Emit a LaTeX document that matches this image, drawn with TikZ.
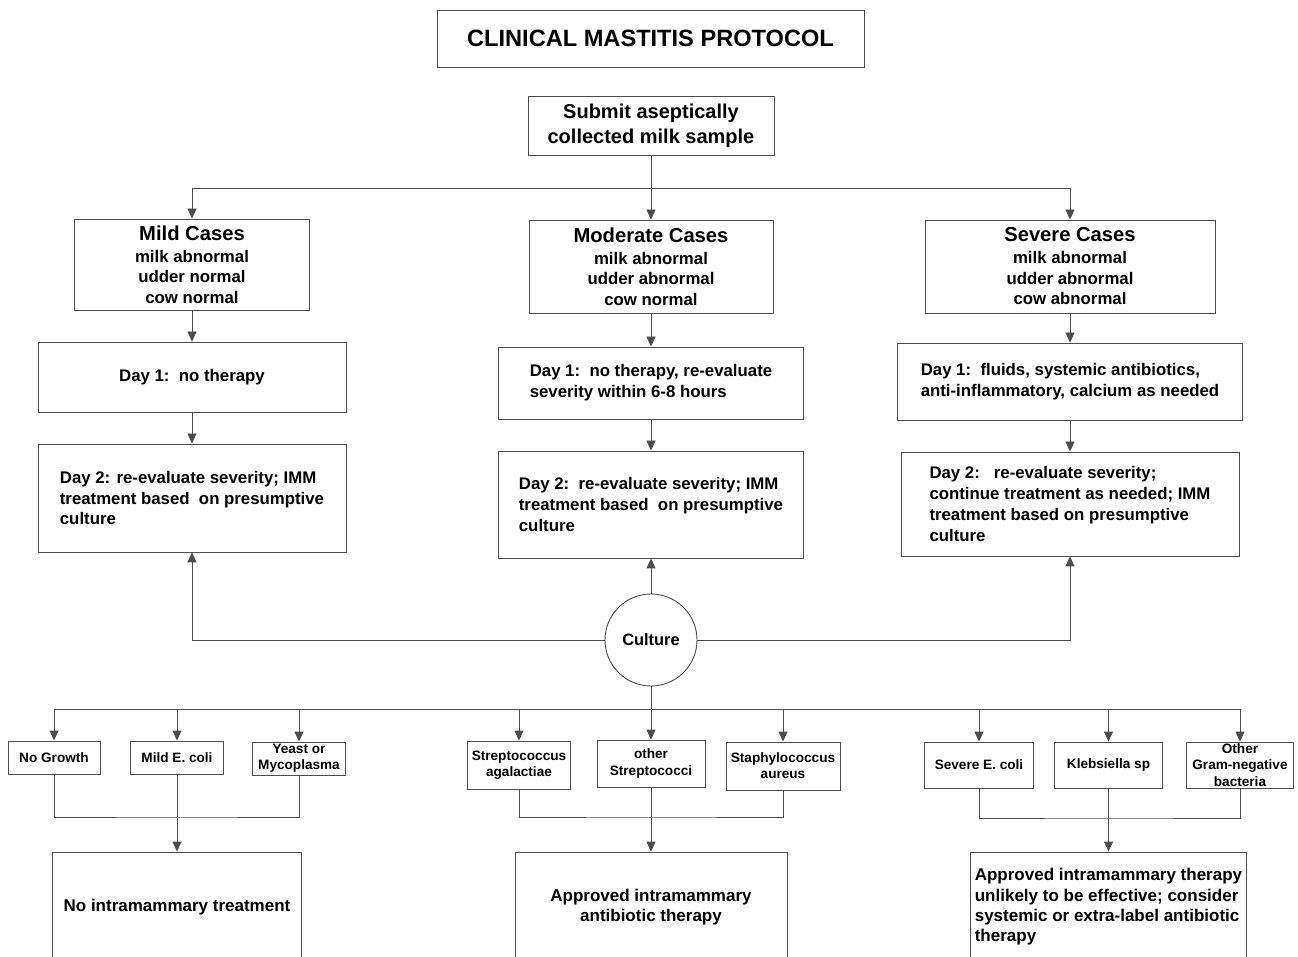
\documentclass[tikz,border=0pt]{standalone}
\usepackage{fontspec}
\setmainfont{Liberation Sans}
\usepackage{tikz}
\usetikzlibrary{arrows.meta}

\begin{document}
\begin{tikzpicture}[
  x=0.5pt, y=-0.5pt,
  line width=0.45pt,
  box/.style={draw=black!70, align=center, inner sep=2pt},
  titlebox/.style={box, font=\fontsize{11.8}{14}\selectfont\bfseries},
  casebox/.style={box, font=\fontsize{8.4}{10.25}\selectfont\bfseries},
  daybox/.style={box, align=left, font=\fontsize{8.4}{10.4}\selectfont\bfseries},
  germbox/.style={box, inner ysep=0.3pt, font=\fontsize{6.8}{8.1}\selectfont\bfseries},
  endbox/.style={box, font=\fontsize{8.5}{10.2}\selectfont\bfseries, minimum height=55pt},
  link/.style={draw=black!70},
  >={Triangle[length=5pt, width=4.5pt]}
]
\useasboundingbox (0,0) rectangle (1298,957);
\clip (0,0) rectangle (1298,957);

\node[titlebox, minimum width=213.5pt, minimum height=28.5pt] (title) at (650.5,38.5) {CLINICAL MASTITIS PROTOCOL};
\node[box, font=\fontsize{10}{12.5}\selectfont\bfseries, minimum width=123pt, minimum height=29.5pt] (submit) at (651,125.5) {Submit aseptically\\collected milk sample};

\node[casebox, minimum width=117.5pt, minimum height=45.5pt] (mild) at (192,264.5)
  {{\fontsize{10.1}{12}\selectfont Mild Cases}\\[0.75pt]milk abnormal\\udder normal\\cow normal};
\node[casebox, minimum width=122pt, minimum height=46.5pt] (moderate) at (651,266.5)
  {{\fontsize{10.1}{12}\selectfont Moderate Cases}\\[0.75pt]milk abnormal\\udder abnormal\\cow normal};
\node[casebox, minimum width=145pt, minimum height=46.5pt] (severe) at (1070,266.5)
  {{\fontsize{10.1}{12}\selectfont Severe Cases}\\[0.75pt]milk abnormal\\udder abnormal\\cow abnormal};

\node[daybox, minimum width=154pt, minimum height=35pt] (mildone) at (192,377) {Day 1:\ \ no therapy};
\node[daybox, minimum width=152.5pt, minimum height=36pt] (modone) at (651,383)
  {Day 1:\ \ no therapy, re-evaluate\\severity within 6-8 hours};
\node[daybox, minimum width=172.5pt, minimum height=38.5pt] (sevone) at (1070,381.5)
  {Day 1:\ \ fluids, systemic antibiotics,\\anti-inflammatory, calcium as needed};

\node[daybox, minimum width=154pt, minimum height=54pt] (mildtwo) at (192,498)
  {Day 2: re-evaluate severity; IMM\\treatment based\ \ on presumptive\\culture};
\node[daybox, minimum width=152.5pt, minimum height=53.5pt] (modtwo) at (651,504.5)
  {Day 2:\ \ re-evaluate severity; IMM\\treatment based\ \ on presumptive\\culture};
\node[daybox, minimum width=169pt, minimum height=52pt] (sevtwo) at (1070,504)
  {Day 2:\ \ \ re-evaluate severity;\\continue treatment as needed; IMM\\treatment based on presumptive\\culture};

\node[box, circle, minimum size=46pt, font=\fontsize{8.2}{10}\selectfont\bfseries] (culture) at (651,640) {Culture};

\node[germbox, minimum width=46pt, minimum height=16.5pt] (nogrowth) at (54,757.5) {No Growth};
\node[germbox, minimum width=46.5pt, minimum height=16.5pt] (mildecoli) at (177,757.5) {Mild E. coli};
\node[germbox, minimum width=46.5pt, minimum height=16.5pt] (yeast) at (299,758.5) {Yeast or\\Mycoplasma};
\node[germbox, minimum width=46.5pt, minimum height=24pt] (strepag) at (519,765) {Streptococcus\\agalactiae};
\node[germbox, minimum width=54pt, minimum height=23.5pt] (otherstrep) at (651,763.5) {other\\Streptococci};
\node[germbox, minimum width=57pt, minimum height=24pt] (staph) at (783,766) {Staphylococcus\\aureus};
\node[germbox, minimum width=54.5pt, minimum height=23pt] (severeecoli) at (979,765) {Severe E. coli};
\node[germbox, minimum width=54pt, minimum height=23pt] (klebs) at (1108.5,765) {Klebsiella sp};
\node[germbox, minimum width=53.5pt, minimum height=23pt] (othergram) at (1240,765) {Other\\Gram-negative\\bacteria};

\node[endbox, minimum width=124.5pt] (noimm) at (177,907) {No intramammary treatment};
\node[endbox, minimum width=136pt] (approved) at (651,907) {Approved intramammary\\antibiotic therapy};
\node[endbox, align=left, minimum width=137pt] (unlikely) at (1108.5,907)
  {Approved intramammary therapy\\unlikely to be effective; consider\\systemic or extra-label antibiotic\\therapy};

\coordinate (topbus) at (651,188);
\coordinate (cultbus) at (651,709);
\coordinate (leftjoin) at (177,817);
\coordinate (midjoin) at (651,817);
\coordinate (rightjoin) at (1108.5,818);

\draw[link] (submit) -- (topbus);
\draw[link, ->] (topbus) -| (mild);
\draw[link, ->] (topbus) -- (moderate);
\draw[link, ->] (topbus) -| (severe);

\draw[link, ->] (mild) -- (mildone);
\draw[link, ->] (mildone) -- (mildtwo);
\draw[link, ->] (moderate) -- (modone);
\draw[link, ->] (modone) -- (modtwo);
\draw[link, ->] (severe) -- (sevone);
\draw[link, ->] (sevone) -- (sevtwo);

\draw[link, ->] (culture) -- (modtwo);
\draw[link, ->] (culture) -| (mildtwo);
\draw[link, ->] (culture) -| (sevtwo);

\draw[link] (culture) -- (cultbus);
\draw[link, ->] (cultbus) -| (nogrowth);
\draw[link, ->] (cultbus) -| (mildecoli);
\draw[link, ->] (cultbus) -| (yeast);
\draw[link, ->] (cultbus) -| (strepag);
\draw[link, ->] (cultbus) -- (otherstrep);
\draw[link, ->] (cultbus) -| (staph);
\draw[link, ->] (cultbus) -| (severeecoli);
\draw[link, ->] (cultbus) -| (klebs);
\draw[link, ->] (cultbus) -| (othergram);

\draw[link] (nogrowth) |- (leftjoin) -| (yeast);
\draw[link, ->] (mildecoli) -- (noimm);
\draw[link] (strepag) |- (midjoin) -| (staph);
\draw[link, ->] (otherstrep) -- (approved);
\draw[link] (severeecoli) |- (rightjoin) -| (othergram);
\draw[link, ->] (klebs) -- (unlikely);
\end{tikzpicture}
\end{document}
